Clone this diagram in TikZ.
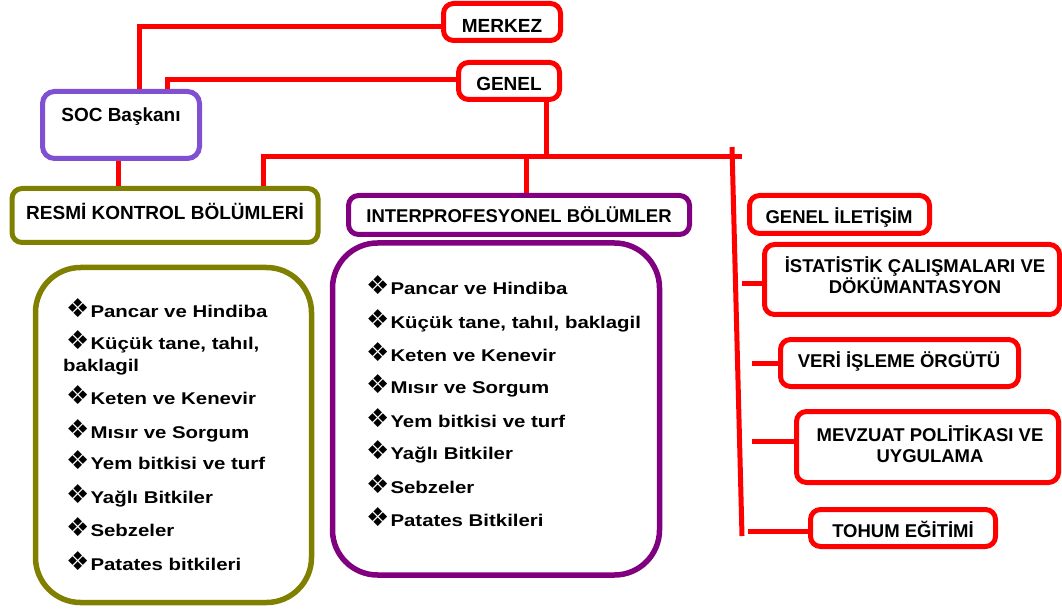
\documentclass[tikz,border=0pt]{standalone}
\usepackage{fontspec}
\setmainfont{Liberation Sans}
\newfontfamily\djv{DejaVu Sans}
\newfontfamily\lstf[FakeStretch=1.2]{Liberation Sans}
\usetikzlibrary{calc}
\definecolor{cred}{RGB}{255,0,0}
\definecolor{csoc}{RGB}{128,80,210}
\definecolor{colive}{RGB}{128,128,0}
\definecolor{cpurp}{RGB}{128,0,128}
\newcommand\blt{{\djv\fontsize{26}{26}\selectfont ❖}\hspace{1pt}}
\tikzset{
  box/.style={draw=cred, line width=5pt, rounded corners=10pt, inner sep=0pt, fill=white},
  bigbox/.style={box, line width=5.5pt, rounded corners=45pt},
  conn/.style={draw=cred, line width=5pt},
  lbl/.style={font=\bfseries\fontsize{19}{22}\selectfont, inner sep=0pt, anchor=base},
  lbls/.style={lbl, font=\bfseries\fontsize{18.5}{22}\selectfont},
  item/.style={font=\lstf\bfseries\fontsize{17}{22}\selectfont, inner sep=0pt, anchor=base west},
}
\begin{document}
\begin{tikzpicture}[x=1pt,y=-1pt]
\clip (0,0) rectangle (1062,609);
\fill[white] (0,0) rectangle (1062,609);
% boxes
\node[box, minimum width=117pt, minimum height=37pt] (merkez) at (502,22) {};
\node[box, minimum width=101pt, minimum height=37pt] (genel) at (509,81) {};
\node[box, draw=csoc, rounded corners=12pt, minimum width=157pt, minimum height=67pt] (soc) at (121,125) {};
\node[box, draw=colive, minimum width=306pt, minimum height=54pt] (resmi) at (165,215.5) {};
\node[box, draw=cpurp, minimum width=341pt, minimum height=39pt] (interp) at (519,215) {};
\node[bigbox, draw=colive, minimum width=276pt, minimum height=335pt] (olist) at (173.5,435) {};
\node[bigbox, draw=cpurp, minimum width=327pt, minimum height=332pt] (plist) at (496,409) {};
\node[box, minimum width=180pt, minimum height=38pt] (genil) at (839.5,214.5) {};
\node[box, minimum width=295pt, minimum height=70pt] (ista) at (912,279.5) {};
\node[box, minimum width=238pt, minimum height=47pt] (veri) at (899.5,363) {};
\node[box, minimum width=262pt, minimum height=71pt] (mev) at (927.5,447) {};
\node[box, minimum width=185pt, minimum height=37pt] (tohum) at (903,528) {};
% connectors
\coordinate (j) at (546,157);
\coordinate (busR) at (742,157);
\coordinate (vtop) at (732,147);
\coordinate (vbot) at (742,536);
\draw[conn] ($(merkez.west)+(0,5)$) -| ($(soc.north)+(18,0)$);
\draw[conn] ($(genel.west)+(0,-1)$) -| ($(soc.north)+(46,0)$);
\draw[conn] ($(genel.south)+(37,0)$) -- (j);
\draw[conn] ($(resmi.north)+(98,0)$) |- (busR);
\draw[conn] ($(interp.north)+(7,0)$) |- (j);
\draw[conn] ($(soc.south)+(-3,0)$) -- ($(resmi.north)+(-47,0)$);
\draw[conn] (vtop) -- (vbot);
\coordinate (s1) at (742,284);
\coordinate (s2) at (752,363);
\coordinate (s3) at (752,441);
\coordinate (s4) at (748,531);
\draw[conn] (s1) -- (s1 -| ista.west);
\draw[conn] (s2) -- (veri.west);
\draw[conn] (s3) -- (s3 -| mev.west);
\draw[conn] (s4) -- (s4 -| tohum.west);
% labels
\node[lbl] (tmerkez) at (502,32.5) {MERKEZ};
\node[lbl] (tgenel) at (509,91) {GENEL};
\node[lbl] (tsoc) at (121,122) {SOC Başkanı};
\node[lbl] (tresmi) at (165,220) {RESMİ KONTROL BÖLÜMLERİ};
\node[lbls] (tinterp) at (519,223) {INTERPROFESYONEL BÖLÜMLER};
\node[lbls] (tgenil) at (839,224) {GENEL İLETİŞİM};
\node[lbls] (tista1) at (915,272.5) {İSTATİSTİK ÇALIŞMALARI VE};
\node[lbls] (tista2) at (915,294) {DÖKÜMANTASYON};
\node[lbls] (tveri) at (899,367) {VERİ İŞLEME ÖRGÜTÜ};
\node[lbls] (tmev1) at (930,441) {MEVZUAT POLİTİKASI VE};
\node[lbls] (tmev2) at (930,462) {UYGULAMA};
\node[lbls] (ttohum) at (903,537) {TOHUM EĞİTİMİ};
% left list
\node[item] (l1) at (66,317) {\blt Pancar ve Hindiba};
\node[item] (l2) at (66,349) {\blt Küçük tane, tahıl,};
\node[item] (l2b) at (63,371) {baklagil};
\node[item] (l3) at (66,404) {\blt Keten ve Kenevir};
\node[item] (l4) at (66,438) {\blt Mısır ve Sorgum};
\node[item] (l5) at (66,469) {\blt Yem bitkisi ve turf};
\node[item] (l6) at (66,503) {\blt Yağlı Bitkiler};
\node[item] (l7) at (66,536) {\blt Sebzeler};
\node[item] (l8) at (66,570) {\blt Patates bitkileri};
% right list
\node[item] (r1) at (366,295) {\blt Pancar ve Hindiba};
\node[item] (r2) at (366,328) {\blt Küçük tane, tahıl, baklagil};
\node[item] (r3) at (366,361) {\blt Keten ve Kenevir};
\node[item] (r4) at (366,393) {\blt Mısır ve Sorgum};
\node[item] (r5) at (366,427) {\blt Yem bitkisi ve turf};
\node[item] (r6) at (366,459) {\blt Yağlı Bitkiler};
\node[item] (r7) at (366,493) {\blt Sebzeler};
\node[item] (r8) at (366,526) {\blt Patates Bitkileri};
\end{tikzpicture}
\end{document}
